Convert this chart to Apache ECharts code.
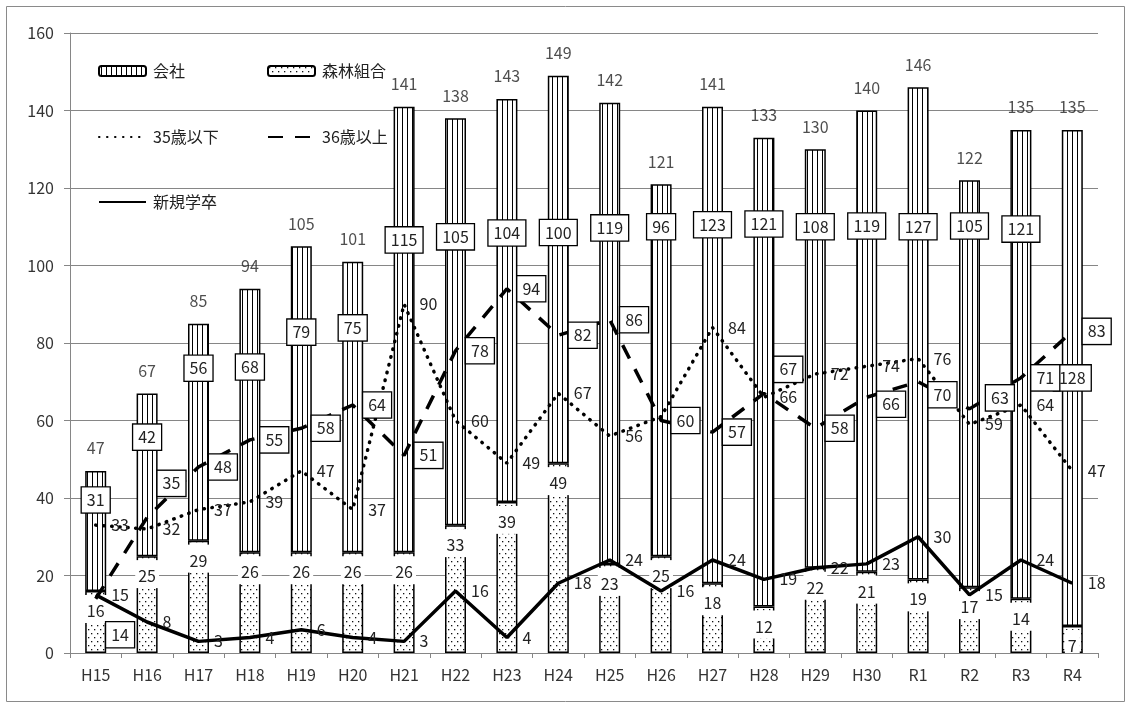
<!DOCTYPE html>
<html>
<head>
<meta charset="utf-8">
<script src="https://cdn.jsdelivr.net/npm/echarts@6/dist/echarts.min.js"></script>
<style>
  html, body { margin: 0; padding: 0; background: #fff; }
  #chart { width: 1131px; height: 708px; }
</style>
</head>
<body>
<div id="chart"></div>
<script>
// 年度
const categories = ['H15','H16','H17','H18','H19','H20','H21','H22','H23','H24','H25','H26','H27','H28','H29','H30','R1','R2','R3','R4'];
// 事業体別（積み上げ棒）
const company    = [31,42,56,68,79,75,115,105,104,100,119,96,123,121,108,119,127,105,121,128];
const forestCoop = [16,25,29,26,26,26,26,33,39,49,23,25,18,12,22,21,19,17,14,7];
// 年齢区分・新規学卒（折れ線）
const under35  = [33,32,37,39,47,37,90,60,49,67,56,61,84,66,72,74,76,59,64,47];
const over36   = [14,35,48,55,58,64,51,78,94,82,86,60,57,67,58,66,70,63,71,83];
const newGrads = [15,8,3,4,6,4,3,16,4,18,24,16,24,19,22,23,30,15,24,18];
// 縦軸目盛
const yTicks = { min: 0, max: 160, step: 20 };

// --- layout helpers (not data) ---
const GRID = { left: 70, right: 33, top: 33, bottom: 55 };
const pxPerUnit = (708 - GRID.top - GRID.bottom) / (yTicks.max - yTicks.min);
// height (axis units) at which each boxed 会社 label is centred
const companyLabelAt = [39.5,55.7,73.5,73.8,82.8,83.9,106.6,107.4,108.4,108.5,109.7,110,110.5,110.7,110,110.2,110,110.2,109.4,71];
// a few 36歳以上 labels are moved off their default spot (px)
const over36Nudge = { 0: [0, 36], 1: [0, -34], 13: [0, -24], 15: [0, 7], 16: [0, 13], 17: [6, -11] };

const FONT = '"Noto Sans CJK JP", "Noto Sans", sans-serif';
const INK = '#222';

function stripePattern() {
  const c = document.createElement('canvas');
  c.width = 5; c.height = 4;
  const g = c.getContext('2d');
  g.fillStyle = '#fff'; g.fillRect(0, 0, 5, 4);
  g.fillStyle = '#000'; g.fillRect(2, 0, 1, 4);
  return c;
}
function dotPattern() {
  const c = document.createElement('canvas');
  c.width = 6; c.height = 8;
  const g = c.getContext('2d');
  g.fillStyle = '#fff'; g.fillRect(0, 0, 6, 8);
  g.fillStyle = '#111';
  g.fillRect(1, 1, 1.3, 1.3);
  g.fillRect(4, 5, 1.3, 1.3);
  return c;
}

const totals = company.map((v, i) => v + forestCoop[i]);

const companyData = company.map((v, i) => ({
  value: v,
  label: { position: ['50%', (totals[i] - companyLabelAt[i]) * pxPerUnit] }
}));

const over36Data = over36.map((v, i) => (
  over36Nudge[i] ? { value: v, label: { offset: over36Nudge[i] } } : v
));

const boxedLabel = {
  show: true,
  color: INK,
  fontSize: 16,
  fontFamily: FONT,
  backgroundColor: '#fff',
  borderColor: '#000',
  borderWidth: 1.3,
  padding: [5, 5, 4, 5]
};
const plainLineLabel = {
  show: true,
  position: 'right',
  distance: 10,
  color: INK,
  fontSize: 16,
  fontFamily: FONT,
  padding: [0, 5]
};

function legendAt(name, left, top, h) {
  return {
    data: [name],
    left: left,
    top: top,
    padding: 0,
    itemWidth: 47,
    itemHeight: h,
    selectedMode: false,
    textStyle: { fontSize: 16, color: INK, fontFamily: FONT, lineHeight: 18, padding: [0, 0, 0, 2] }
  };
}

const chart = echarts.init(document.getElementById('chart'), null, { renderer: 'canvas' });

chart.setOption({
  animation: false,
  backgroundColor: '#fff',
  textStyle: { fontFamily: FONT },
  grid: GRID,
  legend: [
    legendAt('会社', 98, 62, 10),
    legendAt('森林組合', 267, 62, 10),
    legendAt('35歳以下', 98, 128, 14),
    legendAt('36歳以上', 267, 128, 14),
    legendAt('新規学卒', 98, 193, 14)
  ],
  graphic: [{
    type: 'rect',
    z: -10,
    shape: { x: 6.5, y: 6.5, width: 1118, height: 695 },
    style: { fill: 'none', stroke: '#8a8a8a', lineWidth: 1 }
  }],
  xAxis: {
    type: 'category',
    data: categories,
    z: 3,
    axisLine: { lineStyle: { color: '#868686', width: 1 } },
    axisTick: { show: true, length: 5, lineStyle: { color: '#868686' } },
    axisLabel: { fontSize: 16, color: '#333', margin: 14, fontFamily: FONT }
  },
  yAxis: {
    type: 'value',
    min: yTicks.min,
    max: yTicks.max,
    interval: yTicks.step,
    axisLine: { show: true, lineStyle: { color: '#868686', width: 1 } },
    axisTick: { show: true, length: 6, lineStyle: { color: '#868686' } },
    splitLine: { show: true, lineStyle: { color: '#868686', width: 1 } },
    axisLabel: { fontSize: 16, color: '#333', margin: 16, fontFamily: FONT }
  },
  series: [
    {
      name: '森林組合',
      type: 'bar',
      stack: 'total',
      barWidth: 21,
      data: forestCoop,
      itemStyle: { color: { image: dotPattern(), repeat: 'repeat' }, borderColor: '#000', borderWidth: 1.5 },
      label: {
        show: true,
        position: 'insideTop',
        distance: 4,
        color: INK,
        fontSize: 16,
        fontFamily: FONT,
        backgroundColor: '#fff',
        padding: [8, 3, 4, 3]
      }
    },
    {
      name: '会社',
      type: 'bar',
      stack: 'total',
      barWidth: 21,
      data: companyData,
      itemStyle: { color: { image: stripePattern(), repeat: 'repeat' }, borderColor: '#000', borderWidth: 1.5 },
      label: Object.assign({}, boxedLabel, { align: 'center', verticalAlign: 'middle' })
    },
    {
      name: '合計',
      type: 'scatter',
      data: totals,
      symbolSize: 1,
      silent: true,
      itemStyle: { color: 'rgba(0,0,0,0)' },
      label: { show: true, position: 'top', distance: 14, color: INK, fontSize: 16, fontFamily: FONT }
    },
    {
      name: '35歳以下',
      type: 'line',
      data: under35,
      symbol: 'circle',
      symbolSize: 1,
      itemStyle: { color: 'rgba(0,0,0,0)' },
      lineStyle: { color: '#000', width: 3.5, type: [0.5, 7.5], cap: 'round' },
      label: plainLineLabel
    },
    {
      name: '新規学卒',
      type: 'line',
      data: newGrads,
      symbol: 'circle',
      symbolSize: 1,
      itemStyle: { color: 'rgba(0,0,0,0)' },
      lineStyle: { color: '#000', width: 3.5, type: 'solid' },
      label: plainLineLabel
    },
    {
      name: '36歳以上',
      type: 'line',
      data: over36Data,
      symbol: 'circle',
      symbolSize: 1,
      itemStyle: { color: 'rgba(0,0,0,0)' },
      lineStyle: { color: '#000', width: 3.5, type: [15, 12] },
      label: Object.assign({}, boxedLabel, { position: 'right', distance: 10 })
    }
  ]
});
</script>
</body>
</html>
